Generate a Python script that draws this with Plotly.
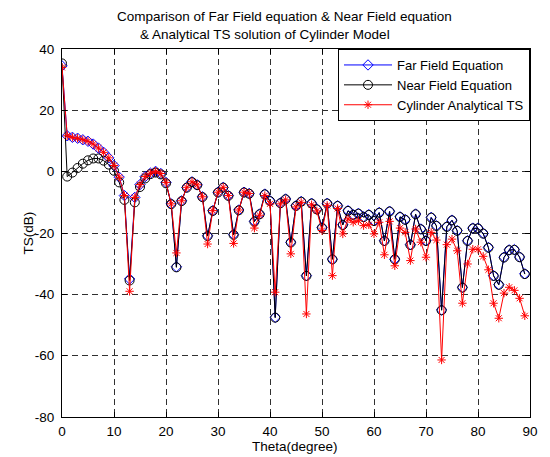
import plotly.graph_objects as go

theta = list(range(90))

far_field = [34.5, 11.7, 11.2, 10.9, 10.4, 9.9, 9.0, 7.7, 6.3, 4.5,
             2.0, -1.8, -7.8, -35.0, -8.4, -4.2, -1.6, -0.5, 0.1, -0.6,
             -3.5, -10.5, -31.0, -9.5, -5.1, -3.3, -4.3, -8.2, -20.9, -12.7,
             -6.7, -5.1, -7.8, -20.5, -12.5, -6.7, -7.1, -16.2, -13.8, -7.3,
             -9.5, -47.5, -10.2, -8.9, -23.0, -11.1, -9.7, -33.9, -10.3, -12.2,
             -18.2, -10.3, -28.5, -11.1, -17.3, -12.7, -14.0, -13.6, -14.7, -14.0,
             -16.0, -13.3, -22.5, -12.9, -28.5, -14.7, -15.6, -23.8, -13.8, -18.7,
             -22.5, -14.9, -17.6, -45.1, -17.9, -15.8, -19.2, -37.7, -22.5, -18.4,
             -18.4, -20.1, -24.7, -33.9, -36.8, -27.9, -25.5, -25.4, -27.8, -33.3]

near_field = [35.3, -1.6, -0.3, 1.2, 2.6, 3.7, 4.3, 4.3, 3.6, 2.3,
              0.3, -3.5, -9.2, -35.5, -10.0, -5.0, -2.2, -0.8, -0.3, -0.9,
              -3.8, -10.6, -31.2, -9.6, -5.2, -3.4, -4.4, -8.3, -21.0, -12.8,
              -6.8, -5.2, -7.9, -20.6, -12.6, -6.8, -7.2, -16.3, -13.9, -7.4,
              -9.6, -47.6, -10.3, -9.0, -23.1, -11.2, -9.8, -34.0, -10.4, -12.3,
              -18.3, -10.4, -28.6, -11.2, -17.4, -12.8, -14.1, -13.7, -14.8, -14.1,
              -16.1, -13.4, -22.6, -13.0, -28.6, -14.8, -15.7, -23.9, -13.9, -18.8,
              -22.6, -15.0, -17.7, -45.2, -18.0, -15.9, -19.3, -37.8, -22.6, -18.5,
              -18.5, -20.2, -24.8, -34.0, -36.9, -28.0, -25.6, -25.5, -27.9, -33.4]

analytical = [34.0, 11.7, 11.2, 10.9, 10.4, 9.9, 9.0, 7.7, 6.3, 4.5,
              2.0, -1.8, -7.8, -39.0, -8.4, -4.2, -1.6, -0.5, 0.1, -0.6,
              -3.5, -10.5, -26.5, -9.5, -5.1, -3.3, -4.3, -8.2, -23.6, -12.7,
              -6.7, -5.1, -7.8, -23.4, -12.5, -6.7, -7.1, -18.4, -14.2, -7.8,
              -10.5, -39.3, -10.5, -9.2, -26.8, -11.5, -10.0, -46.4, -10.8, -12.8,
              -19.2, -11.0, -33.9, -12.0, -20.3, -15.4, -16.5, -16.0, -17.6, -17.3,
              -20.3, -16.5, -27.1, -16.2, -30.7, -18.4, -19.8, -29.0, -18.7, -23.0,
              -27.9, -19.8, -22.3, -61.4, -23.8, -22.0, -25.8, -42.9, -30.1, -25.3,
              -25.3, -27.6, -32.0, -42.9, -47.8, -39.6, -37.7, -38.7, -41.3, -47.0]

x_ticks = [0, 10, 20, 30, 40, 50, 60, 70, 80, 90]
y_ticks = [-80, -60, -40, -20, 0, 20, 40]

FONT = "Liberation Sans, Arial, sans-serif"
FS = 13.5

fig = go.Figure()
fig.add_trace(go.Scatter(
    x=theta, y=far_field, name="Far Field Equation", mode="lines+markers",
    line=dict(color="#0000ff", width=1),
    marker=dict(symbol="diamond-open", size=8, color="#0000ff", line=dict(width=1))))
fig.add_trace(go.Scatter(
    x=theta, y=near_field, name="Near Field Equation", mode="lines+markers",
    line=dict(color="#000000", width=1),
    marker=dict(symbol="circle-open", size=9, color="#000000", line=dict(width=1))))
fig.add_trace(go.Scatter(
    x=theta, y=analytical, name="Cylinder Analytical TS", mode="lines+markers",
    line=dict(color="#ff0000", width=1),
    marker=dict(symbol="asterisk-open", size=7, color="#ff0000", line=dict(width=1, color="#ff0000"))))

axis_common = dict(
    showline=True, linecolor="black", linewidth=1, mirror="ticks",
    ticks="inside", ticklen=5, tickcolor="black", tickwidth=1,
    showgrid=True, gridcolor="#303030", gridwidth=1, griddash="6px,4px",
    zeroline=False, tickfont=dict(family=FONT, size=FS, color="black"),
)

fig.update_xaxes(range=[0, 90], tickvals=x_ticks, ticktext=[str(v) for v in x_ticks],
                 ticklabelstandoff=2, **axis_common)
fig.update_yaxes(range=[-80, 40], tickvals=y_ticks, ticktext=[str(v) for v in y_ticks],
                 ticklabelstandoff=4, **axis_common)

fig.update_layout(
    width=550, height=457,
    margin=dict(l=62, r=12, t=49, b=40),
    paper_bgcolor="white", plot_bgcolor="white",
    font=dict(family=FONT, size=FS, color="black"),
    showlegend=True,
    legend=dict(x=1, y=1, xanchor="right", yanchor="top",
                bgcolor="white", bordercolor="black", borderwidth=1,
                font=dict(family=FONT, size=13, color="black"),
                itemwidth=48, tracegroupgap=0),
    annotations=[
        dict(text="Comparison of Far Field equation & Near Field equation",
             xref="paper", yref="paper", x=(288.5 - 62) / 476, y=(417 - 16) / 368,
             xanchor="center", yanchor="middle", showarrow=False,
             font=dict(family=FONT, size=FS, color="black")),
        dict(text="& Analytical TS solution of Cylinder Model",
             xref="paper", yref="paper", x=(268.5 - 62) / 476, y=(417 - 35) / 368,
             xanchor="center", yanchor="middle", showarrow=False,
             font=dict(family=FONT, size=FS, color="black")),
        dict(text="Theta(degree)", xref="paper", yref="paper", x=(299 - 62) / 476,
             y=(417 - 446) / 368,
             xanchor="center", yanchor="middle", showarrow=False,
             font=dict(family=FONT, size=FS, color="black")),
        dict(text="TS(dB)", xref="paper", yref="paper", x=(27 - 62) / 476, y=(417 - 233) / 368,
             xanchor="center", yanchor="middle", showarrow=False, textangle=-90,
             font=dict(family=FONT, size=FS, color="black")),
    ],
)

fig.write_html("out.html")
